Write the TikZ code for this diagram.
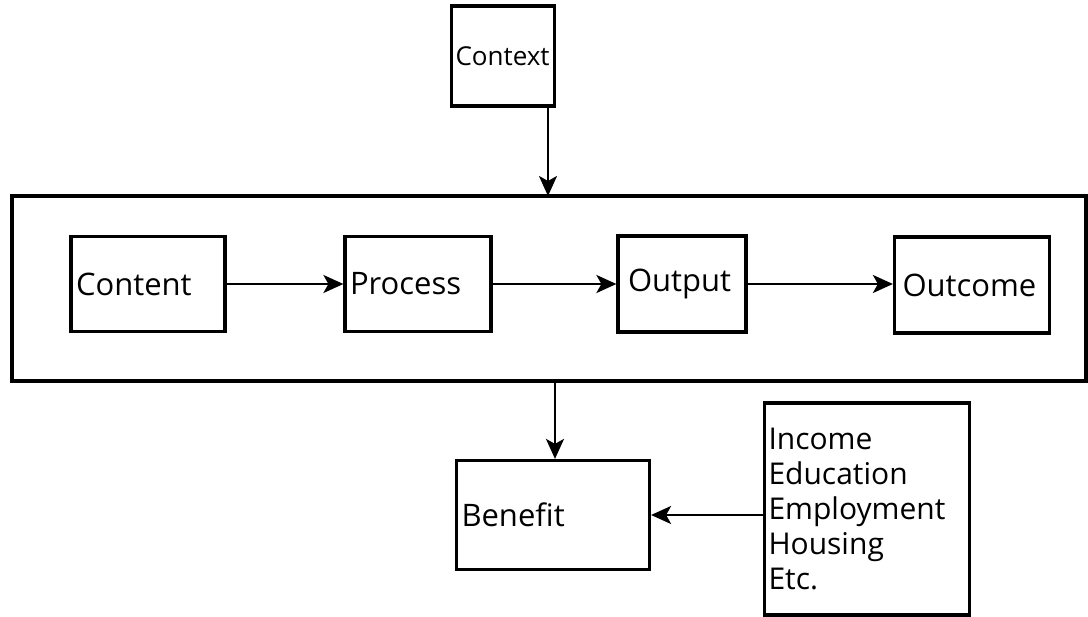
\documentclass[tikz,border=0pt]{standalone}
\usepackage{fontspec}
\setmainfont{Open Sans}
\usetikzlibrary{arrows.meta}

\begin{document}
\begin{tikzpicture}[x=1pt, y=-1pt,
stage/.style={rectangle, draw=black, line width=3.2pt, inner ysep=0pt, inner xsep=5pt, align=left, font=\fontsize{31}{36}\selectfont},
factors/.style={rectangle, draw=black, line width=3.2pt, inner sep=4pt, align=left, font=\fontsize{30}{35}\selectfont},
link/.style={-{Stealth[length=20pt, width=18pt, inset=5pt]}, line width=2.2pt}
]
\useasboundingbox (0,0) rectangle (1088,617);

\node[stage, text width=95pt, inner xsep=4pt, minimum height=100pt, font=\fontsize{26}{32}\selectfont](context) at (503,56){\mbox{Context}};

% the programme frame
\draw[line width=4.4pt] (12,196) rectangle (1086,381);
\coordinate (frame_top) at (548,196);
\coordinate (frame_bottom) at (555,381);

\node[stage, text width=144pt, minimum height=95pt](content) at (148,284){Content};
\node[stage, text width=136pt, minimum height=95pt](process) at (418,284){Process};
\node[stage, text width=118pt, minimum height=96pt](output) at (682,284){\hspace*{5pt}Output};
\node[stage, text width=145pt, minimum height=96pt](outcome) at (972,285){\mbox{\hspace*{3pt}Outcome}};

\node[stage, text width=183pt, minimum height=109pt](benefit) at (553,515){Benefit};
\node[factors, minimum height=212pt, text width=197pt](factors) at (867,509){Income\\Education\\Employment\\Housing\\Etc.};

\draw[link] (context.south -| frame_top) -- (frame_top);
\draw[link] (content.east) -- (content.east -| process.west);
\draw[link] (process.east) -- (process.east -| output.west);
\draw[link] (output.east) -- (output.east -| outcome.west);
\draw[link] (frame_bottom) -- (frame_bottom |- benefit.north);
\draw[link] (benefit.east -| factors.west) -- (benefit.east);
\end{tikzpicture}
\end{document}
